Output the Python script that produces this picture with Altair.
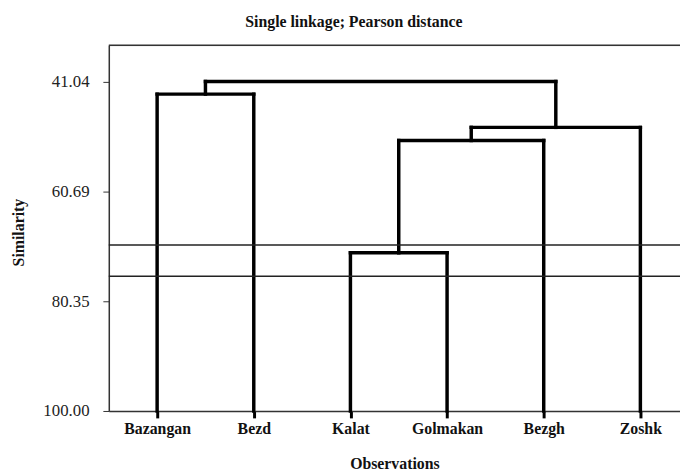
import altair as alt
import pandas as pd

# ---- data ----
leaves = ["Bazangan", "Bezd", "Kalat", "Golmakan", "Bezgh", "Zoshk"]
merge_a = [2, 6, 7, 0, 9]          # scipy-style node ids (leaves 0..5)
merge_b = [3, 4, 5, 1, 8]
merge_height = [71.7, 51.6, 49.25, 43.3, 41.04]
cut_levels = [70.3, 75.9]
y_ticks = [41.04, 60.69, 80.35, 100.00]
y_domain = [34.57, 100.0]
x_domain = [0.5, 6.41]
x_title = "Observations"
y_title = "Similarity"
chart_title = "Single  linkage; Pearson distance"

# ---- build dendrogram segments ----
node_x = [i + 1 for i in range(len(leaves))]
node_h = [100.0] * len(leaves)
rows = []
for a, b, h in zip(merge_a, merge_b, merge_height):
    xa, xb = node_x[a], node_x[b]
    rows.append(dict(x=xa, x2=xa, y=node_h[a], y2=h))
    rows.append(dict(x=xb, x2=xb, y=node_h[b], y2=h))
    rows.append(dict(x=xa, x2=xb, y=h, y2=h))
    node_x.append((xa + xb) / 2)
    node_h.append(h)
seg = pd.DataFrame(rows)

W, H = 578, 370
FONT = "Liberation Serif"
xscale = alt.Scale(domain=x_domain, nice=False, zero=False)
yscale = alt.Scale(domain=y_domain, reverse=True, nice=False, zero=False)
label_expr = "[" + ",".join(f"'{n}'" for n in leaves) + "][datum.value - 1]"

dend = alt.Chart(seg).mark_rule(strokeWidth=3.5, color="black", strokeCap="square").encode(
    x=alt.X("x:Q", scale=xscale,
            axis=alt.Axis(values=list(range(1, len(leaves) + 1)), labelExpr=label_expr,
                          title=x_title, grid=False, tickSize=7, tickWidth=3, tickColor="black",
                          domainColor="#333", domainWidth=1.5,
                          labelFont=FONT, labelFontSize=16, labelFontWeight="bold", labelColor="#111",
                          labelPadding=3, labelAngle=0,
                          titleFont=FONT, titleFontSize=16, titleFontWeight="bold", titleColor="#111",
                          titlePadding=19)),
    x2="x2:Q",
    y=alt.Y("y:Q", scale=yscale,
            axis=alt.Axis(values=y_ticks, format=".2f", title=y_title, grid=False,
                          tickSize=6, tickWidth=1, tickColor="#333",
                          domainColor="#333", domainWidth=1.5,
                          labelFont=FONT, labelFontSize=17, labelColor="#222", labelPadding=14,
                          titleFont=FONT, titleFontSize=16, titleFontWeight="bold", titleColor="#111",
                          titleX=-91, titleY=189, titleBaseline="middle")),
    y2="y2:Q",
)

cuts = alt.Chart(pd.DataFrame({"y": cut_levels})).mark_rule(strokeWidth=1.5, color="#222").encode(
    y=alt.Y("y:Q", scale=yscale)
)

top = alt.Chart(pd.DataFrame({"y": [y_domain[0]]})).mark_rule(strokeWidth=1.5, color="#333").encode(
    y=alt.Y("y:Q", scale=yscale)
)

chart = alt.layer(dend, cuts, top).properties(
    width=W, height=H,
    title=alt.TitleParams(chart_title, font=FONT, fontSize=16, fontWeight="bold", color="#111",
                          anchor="middle", dx=-41, offset=15),
    autosize=alt.AutoSizeParams(type="none"),
    padding={"left": 102, "top": 35, "right": 0, "bottom": 61},
).configure_view(stroke=None).configure(background="white")

chart.save("out.html", embed_options={"renderer": "svg", "actions": False})
